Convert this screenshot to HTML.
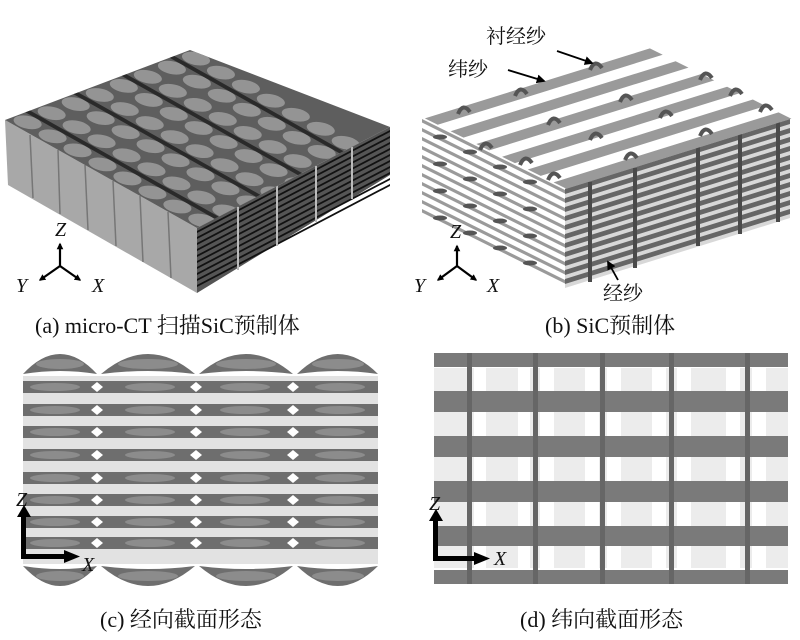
<!DOCTYPE html>
<html><head><meta charset="utf-8"><style>
html,body{margin:0;padding:0;background:#fff;}
svg{display:block}
text{font-family:"Liberation Serif","Noto Serif CJK SC","Noto Sans CJK SC",serif;fill:#111}
.it{font-style:italic}
</style></head><body>
<svg width="800" height="640" viewBox="0 0 800 640" xmlns="http://www.w3.org/2000/svg">
<defs>
<marker id="ah" viewBox="0 0 10 10" refX="8" refY="5" markerWidth="5" markerHeight="5" orient="auto"><path d="M0,0L10,5L0,10z" fill="#000"/></marker>
<marker id="ahb" viewBox="0 0 10 10" refX="8" refY="5" markerWidth="3" markerHeight="3" orient="auto"><path d="M0,0L10,5L0,10z" fill="#000"/></marker>
<clipPath id="topA"><polygon points="5,120 190,50 390,127 197,228"/></clipPath>
</defs>

<!-- ============ Panel A ============ -->
<polygon points="5,120 197,228 197,293 8,185" fill="#a8a8a8"/>
<g stroke="#6a6a6a" stroke-width="1.5" opacity="0.8">
<line x1="30" y1="135" x2="33" y2="198"/><line x1="58" y1="150" x2="60" y2="214"/>
<line x1="85" y1="165" x2="88" y2="230"/><line x1="113" y1="181" x2="116" y2="246"/>
<line x1="140" y1="196" x2="143" y2="262"/><line x1="168" y1="212" x2="171" y2="278"/>
</g>
<polygon points="197,228 390,127 390,175 197,293" fill="#555"/>
<g transform="matrix(193,-101,0,1,197,228)">
<rect x="0" y="3" width="1" height="2" fill="#111"/><rect x="0" y="9" width="1" height="2" fill="#111"/>
<rect x="0" y="15" width="1" height="2" fill="#111"/><rect x="0" y="21" width="1" height="2" fill="#111"/>
<rect x="0" y="27" width="1" height="2" fill="#111"/><rect x="0" y="33" width="1" height="2" fill="#111"/>
<rect x="0" y="39" width="1" height="2" fill="#111"/><rect x="0" y="45" width="1" height="2" fill="#111"/>
<rect x="0" y="51" width="1" height="2" fill="#111"/><rect x="0" y="57" width="1" height="2" fill="#111"/>
</g>
<g stroke="#bbb" stroke-width="2">
<line x1="238" y1="207" x2="238" y2="270"/><line x1="277" y1="186" x2="277" y2="246"/>
<line x1="316" y1="166" x2="316" y2="222"/><line x1="352" y1="147" x2="352" y2="199"/>
</g>
<polygon points="5,120 190,50 390,127 197,228" fill="#5e5e5e"/>
<g clip-path="url(#topA)">
<g transform="matrix(185,-70,192,108,5,120)">
<g fill="#949494">
<ellipse cx="0.06" cy="0.06" rx="0.05" ry="0.055"/><ellipse cx="0.19" cy="0.06" rx="0.05" ry="0.055"/><ellipse cx="0.32" cy="0.06" rx="0.05" ry="0.055"/><ellipse cx="0.45" cy="0.06" rx="0.05" ry="0.055"/><ellipse cx="0.58" cy="0.06" rx="0.05" ry="0.055"/><ellipse cx="0.71" cy="0.06" rx="0.05" ry="0.055"/><ellipse cx="0.84" cy="0.06" rx="0.05" ry="0.055"/><ellipse cx="0.97" cy="0.06" rx="0.05" ry="0.055"/>
<ellipse cx="0.06" cy="0.19" rx="0.05" ry="0.055"/><ellipse cx="0.19" cy="0.19" rx="0.05" ry="0.055"/><ellipse cx="0.32" cy="0.19" rx="0.05" ry="0.055"/><ellipse cx="0.45" cy="0.19" rx="0.05" ry="0.055"/><ellipse cx="0.58" cy="0.19" rx="0.05" ry="0.055"/><ellipse cx="0.71" cy="0.19" rx="0.05" ry="0.055"/><ellipse cx="0.84" cy="0.19" rx="0.05" ry="0.055"/><ellipse cx="0.97" cy="0.19" rx="0.05" ry="0.055"/>
<ellipse cx="0.06" cy="0.32" rx="0.05" ry="0.055"/><ellipse cx="0.19" cy="0.32" rx="0.05" ry="0.055"/><ellipse cx="0.32" cy="0.32" rx="0.05" ry="0.055"/><ellipse cx="0.45" cy="0.32" rx="0.05" ry="0.055"/><ellipse cx="0.58" cy="0.32" rx="0.05" ry="0.055"/><ellipse cx="0.71" cy="0.32" rx="0.05" ry="0.055"/><ellipse cx="0.84" cy="0.32" rx="0.05" ry="0.055"/><ellipse cx="0.97" cy="0.32" rx="0.05" ry="0.055"/>
<ellipse cx="0.06" cy="0.45" rx="0.05" ry="0.055"/><ellipse cx="0.19" cy="0.45" rx="0.05" ry="0.055"/><ellipse cx="0.32" cy="0.45" rx="0.05" ry="0.055"/><ellipse cx="0.45" cy="0.45" rx="0.05" ry="0.055"/><ellipse cx="0.58" cy="0.45" rx="0.05" ry="0.055"/><ellipse cx="0.71" cy="0.45" rx="0.05" ry="0.055"/><ellipse cx="0.84" cy="0.45" rx="0.05" ry="0.055"/><ellipse cx="0.97" cy="0.45" rx="0.05" ry="0.055"/>
<ellipse cx="0.06" cy="0.58" rx="0.05" ry="0.055"/><ellipse cx="0.19" cy="0.58" rx="0.05" ry="0.055"/><ellipse cx="0.32" cy="0.58" rx="0.05" ry="0.055"/><ellipse cx="0.45" cy="0.58" rx="0.05" ry="0.055"/><ellipse cx="0.58" cy="0.58" rx="0.05" ry="0.055"/><ellipse cx="0.71" cy="0.58" rx="0.05" ry="0.055"/><ellipse cx="0.84" cy="0.58" rx="0.05" ry="0.055"/><ellipse cx="0.97" cy="0.58" rx="0.05" ry="0.055"/>
<ellipse cx="0.06" cy="0.71" rx="0.05" ry="0.055"/><ellipse cx="0.19" cy="0.71" rx="0.05" ry="0.055"/><ellipse cx="0.32" cy="0.71" rx="0.05" ry="0.055"/><ellipse cx="0.45" cy="0.71" rx="0.05" ry="0.055"/><ellipse cx="0.58" cy="0.71" rx="0.05" ry="0.055"/><ellipse cx="0.71" cy="0.71" rx="0.05" ry="0.055"/><ellipse cx="0.84" cy="0.71" rx="0.05" ry="0.055"/><ellipse cx="0.97" cy="0.71" rx="0.05" ry="0.055"/>
<ellipse cx="0.06" cy="0.84" rx="0.05" ry="0.055"/><ellipse cx="0.19" cy="0.84" rx="0.05" ry="0.055"/><ellipse cx="0.32" cy="0.84" rx="0.05" ry="0.055"/><ellipse cx="0.45" cy="0.84" rx="0.05" ry="0.055"/><ellipse cx="0.58" cy="0.84" rx="0.05" ry="0.055"/><ellipse cx="0.71" cy="0.84" rx="0.05" ry="0.055"/><ellipse cx="0.84" cy="0.84" rx="0.05" ry="0.055"/><ellipse cx="0.97" cy="0.84" rx="0.05" ry="0.055"/>
<ellipse cx="0.06" cy="0.97" rx="0.05" ry="0.055"/><ellipse cx="0.19" cy="0.97" rx="0.05" ry="0.055"/><ellipse cx="0.32" cy="0.97" rx="0.05" ry="0.055"/><ellipse cx="0.45" cy="0.97" rx="0.05" ry="0.055"/><ellipse cx="0.58" cy="0.97" rx="0.05" ry="0.055"/><ellipse cx="0.71" cy="0.97" rx="0.05" ry="0.055"/><ellipse cx="0.84" cy="0.97" rx="0.05" ry="0.055"/><ellipse cx="0.97" cy="0.97" rx="0.05" ry="0.055"/>
</g>
<g fill="#2a2a2a">
<rect x="0.11" y="0" width="0.025" height="1"/><rect x="0.37" y="0" width="0.025" height="1"/><rect x="0.63" y="0" width="0.025" height="1"/><rect x="0.89" y="0" width="0.025" height="1"/>
</g>
</g>
</g>
<g stroke="#000" stroke-width="2.2" fill="none">
<line x1="60" y1="266" x2="60" y2="244" marker-end="url(#ahb)"/>
<line x1="60" y1="266" x2="40" y2="280" marker-end="url(#ahb)"/>
<line x1="60" y1="266" x2="80" y2="280" marker-end="url(#ahb)"/>
</g>
<text x="55" y="236" font-size="20" class="it">Z</text>
<text x="16" y="292" font-size="20" class="it">Y</text>
<text x="92" y="292" font-size="20" class="it">X</text>
<text x="35" y="333" font-size="22">(a) micro-CT 扫描SiC预制体</text>

<!-- ============ Panel B ============ -->
<g transform="matrix(143,71,0,1,422,117)">
<rect x="0" y="0" width="1" height="100" fill="#fff"/>
<rect x="0" y="2" width="1" height="3.5" fill="#9a9a9a"/><rect x="0" y="11" width="1" height="3.5" fill="#9a9a9a"/>
<rect x="0" y="20" width="1" height="3.5" fill="#9a9a9a"/><rect x="0" y="29" width="1" height="3.5" fill="#9a9a9a"/>
<rect x="0" y="38" width="1" height="3.5" fill="#9a9a9a"/><rect x="0" y="47" width="1" height="3.5" fill="#9a9a9a"/>
<rect x="0" y="56" width="1" height="3.5" fill="#9a9a9a"/><rect x="0" y="65" width="1" height="3.5" fill="#9a9a9a"/>
<rect x="0" y="74" width="1" height="3.5" fill="#9a9a9a"/><rect x="0" y="83" width="1" height="3.5" fill="#9a9a9a"/>
<rect x="0" y="92" width="1" height="3.5" fill="#9a9a9a"/>
</g>
<g fill="#555">
<ellipse cx="440" cy="137" rx="7" ry="2.5"/><ellipse cx="470" cy="152" rx="7" ry="2.5"/><ellipse cx="500" cy="167" rx="7" ry="2.5"/><ellipse cx="530" cy="182" rx="7" ry="2.5"/>
<ellipse cx="440" cy="164" rx="7" ry="2.5"/><ellipse cx="470" cy="179" rx="7" ry="2.5"/><ellipse cx="500" cy="194" rx="7" ry="2.5"/><ellipse cx="530" cy="209" rx="7" ry="2.5"/>
<ellipse cx="440" cy="191" rx="7" ry="2.5"/><ellipse cx="470" cy="206" rx="7" ry="2.5"/><ellipse cx="500" cy="221" rx="7" ry="2.5"/><ellipse cx="530" cy="236" rx="7" ry="2.5"/>
<ellipse cx="440" cy="218" rx="7" ry="2.5"/><ellipse cx="470" cy="233" rx="7" ry="2.5"/><ellipse cx="500" cy="248" rx="7" ry="2.5"/><ellipse cx="530" cy="263" rx="7" ry="2.5"/>
</g>
<g transform="matrix(225,-70,0,1,565,188)">
<rect x="0" y="0" width="1" height="100" fill="#d8d8d8"/>
<rect x="0" y="1" width="1" height="5" fill="#666"/><rect x="0" y="10" width="1" height="5" fill="#666"/>
<rect x="0" y="19" width="1" height="5" fill="#666"/><rect x="0" y="28" width="1" height="5" fill="#666"/>
<rect x="0" y="37" width="1" height="5" fill="#666"/><rect x="0" y="46" width="1" height="5" fill="#666"/>
<rect x="0" y="55" width="1" height="5" fill="#666"/><rect x="0" y="64" width="1" height="5" fill="#666"/>
<rect x="0" y="73" width="1" height="5" fill="#666"/><rect x="0" y="82" width="1" height="5" fill="#666"/>
<rect x="0" y="91" width="1" height="5" fill="#666"/>
</g>
<g stroke="#4a4a4a" stroke-width="4">
<line x1="590" y1="182" x2="590" y2="282"/><line x1="635" y1="168" x2="635" y2="268"/>
<line x1="698" y1="146" x2="698" y2="246"/><line x1="740" y1="134" x2="740" y2="234"/>
<line x1="778" y1="122" x2="778" y2="222"/>
</g>
<g transform="matrix(225,-70,143,71,422,117)">
<rect x="0" y="0.02" width="1" height="0.09" fill="#9a9a9a"/>
<rect x="0" y="0.2" width="1" height="0.09" fill="#9a9a9a"/>
<rect x="0" y="0.38" width="1" height="0.09" fill="#9a9a9a"/>
<rect x="0" y="0.56" width="1" height="0.09" fill="#9a9a9a"/>
<rect x="0" y="0.74" width="1" height="0.09" fill="#9a9a9a"/>
<rect x="0" y="0.92" width="1" height="0.09" fill="#9a9a9a"/>
</g>
<g fill="none" stroke="#555" stroke-width="4">
<path d="M458,114 q5,-12 12,-2"/><path d="M515,96 q5,-12 12,-2"/><path d="M590,70 q5,-12 12,-2"/>
<path d="M480,150 q5,-12 12,-2"/><path d="M548,125 q5,-12 12,-2"/><path d="M620,102 q5,-12 12,-2"/><path d="M700,80 q5,-12 12,-2"/>
<path d="M520,165 q5,-12 12,-2"/><path d="M590,140 q5,-12 12,-2"/><path d="M660,118 q5,-12 12,-2"/><path d="M730,96 q5,-12 12,-2"/>
<path d="M548,180 q5,-12 12,-2"/><path d="M625,160 q5,-12 12,-2"/><path d="M700,136 q5,-12 12,-2"/><path d="M760,112 q5,-12 12,-2"/>
</g>
<text x="486" y="43" font-size="20">衬经纱</text>
<text x="448" y="76" font-size="20">纬纱</text>
<g stroke="#000" stroke-width="1.8">
<line x1="557" y1="51" x2="592" y2="63" marker-end="url(#ah)"/>
<line x1="508" y1="70" x2="544" y2="81" marker-end="url(#ah)"/>
<line x1="618" y1="280" x2="608" y2="262" marker-end="url(#ah)"/>
</g>
<text x="603" y="300" font-size="20">经纱</text>
<g stroke="#000" stroke-width="2.2" fill="none">
<line x1="457" y1="266" x2="457" y2="246" marker-end="url(#ahb)"/>
<line x1="457" y1="266" x2="438" y2="280" marker-end="url(#ahb)"/>
<line x1="457" y1="266" x2="476" y2="280" marker-end="url(#ahb)"/>
</g>
<text x="450" y="238" font-size="20" class="it">Z</text>
<text x="414" y="292" font-size="20" class="it">Y</text>
<text x="487" y="292" font-size="20" class="it">X</text>
<text x="545" y="333" font-size="22">(b) SiC预制体</text>

<!-- ============ Panel C ============ -->
<rect x="23" y="376" width="355" height="188" fill="#e2e2e2"/>
<g fill="#6e6e6e">
<rect x="23" y="381" width="355" height="12"/><rect x="23" y="404" width="355" height="12"/>
<rect x="23" y="426" width="355" height="12"/><rect x="23" y="449" width="355" height="12"/>
<rect x="23" y="472" width="355" height="12"/><rect x="23" y="494" width="355" height="12"/>
<rect x="23" y="516" width="355" height="12"/><rect x="23" y="537" width="355" height="12"/>
</g>
<g fill="#8c8c8c">
<ellipse cx="55" cy="387" rx="25" ry="4"/><ellipse cx="150" cy="387" rx="25" ry="4"/><ellipse cx="245" cy="387" rx="25" ry="4"/><ellipse cx="340" cy="387" rx="25" ry="4"/>
<ellipse cx="55" cy="410" rx="25" ry="4"/><ellipse cx="150" cy="410" rx="25" ry="4"/><ellipse cx="245" cy="410" rx="25" ry="4"/><ellipse cx="340" cy="410" rx="25" ry="4"/>
<ellipse cx="55" cy="432" rx="25" ry="4"/><ellipse cx="150" cy="432" rx="25" ry="4"/><ellipse cx="245" cy="432" rx="25" ry="4"/><ellipse cx="340" cy="432" rx="25" ry="4"/>
<ellipse cx="55" cy="455" rx="25" ry="4"/><ellipse cx="150" cy="455" rx="25" ry="4"/><ellipse cx="245" cy="455" rx="25" ry="4"/><ellipse cx="340" cy="455" rx="25" ry="4"/>
<ellipse cx="55" cy="478" rx="25" ry="4"/><ellipse cx="150" cy="478" rx="25" ry="4"/><ellipse cx="245" cy="478" rx="25" ry="4"/><ellipse cx="340" cy="478" rx="25" ry="4"/>
<ellipse cx="55" cy="500" rx="25" ry="4"/><ellipse cx="150" cy="500" rx="25" ry="4"/><ellipse cx="245" cy="500" rx="25" ry="4"/><ellipse cx="340" cy="500" rx="25" ry="4"/>
<ellipse cx="55" cy="522" rx="25" ry="4"/><ellipse cx="150" cy="522" rx="25" ry="4"/><ellipse cx="245" cy="522" rx="25" ry="4"/><ellipse cx="340" cy="522" rx="25" ry="4"/>
<ellipse cx="55" cy="543" rx="25" ry="4"/><ellipse cx="150" cy="543" rx="25" ry="4"/><ellipse cx="245" cy="543" rx="25" ry="4"/><ellipse cx="340" cy="543" rx="25" ry="4"/>
</g>
<!-- X-junction diamonds -->
<g fill="#fff">
<path d="M91,387 l6,-5 l6,5 l-6,5z"/><path d="M91,410 l6,-5 l6,5 l-6,5z"/><path d="M91,432 l6,-5 l6,5 l-6,5z"/><path d="M91,455 l6,-5 l6,5 l-6,5z"/><path d="M91,478 l6,-5 l6,5 l-6,5z"/><path d="M91,500 l6,-5 l6,5 l-6,5z"/><path d="M91,522 l6,-5 l6,5 l-6,5z"/><path d="M91,543 l6,-5 l6,5 l-6,5z"/>
<path d="M190,387 l6,-5 l6,5 l-6,5z"/><path d="M190,410 l6,-5 l6,5 l-6,5z"/><path d="M190,432 l6,-5 l6,5 l-6,5z"/><path d="M190,455 l6,-5 l6,5 l-6,5z"/><path d="M190,478 l6,-5 l6,5 l-6,5z"/><path d="M190,500 l6,-5 l6,5 l-6,5z"/><path d="M190,522 l6,-5 l6,5 l-6,5z"/><path d="M190,543 l6,-5 l6,5 l-6,5z"/>
<path d="M287,387 l6,-5 l6,5 l-6,5z"/><path d="M287,410 l6,-5 l6,5 l-6,5z"/><path d="M287,432 l6,-5 l6,5 l-6,5z"/><path d="M287,455 l6,-5 l6,5 l-6,5z"/><path d="M287,478 l6,-5 l6,5 l-6,5z"/><path d="M287,500 l6,-5 l6,5 l-6,5z"/><path d="M287,522 l6,-5 l6,5 l-6,5z"/><path d="M287,543 l6,-5 l6,5 l-6,5z"/>
</g>
<!-- arcs -->
<g fill="#6e6e6e">
<path d="M23,374 Q60,334 97,374 Q60,368 23,374z"/><path d="M101,374 Q148,334 195,374 Q148,368 101,374z"/>
<path d="M199,374 Q246,334 293,374 Q246,368 199,374z"/><path d="M297,374 Q338,334 378,374 Q338,368 297,374z"/>
<path d="M23,566 Q60,606 97,566 Q60,572 23,566z"/><path d="M101,566 Q148,606 195,566 Q148,572 101,566z"/>
<path d="M199,566 Q246,606 293,566 Q246,572 199,566z"/><path d="M297,566 Q338,606 378,566 Q338,572 297,566z"/>
</g>
<g fill="#8c8c8c">
<ellipse cx="60" cy="364" rx="24" ry="5"/><ellipse cx="148" cy="364" rx="30" ry="5"/><ellipse cx="246" cy="364" rx="30" ry="5"/><ellipse cx="338" cy="364" rx="26" ry="5"/>
<ellipse cx="60" cy="576" rx="24" ry="5"/><ellipse cx="148" cy="576" rx="30" ry="5"/><ellipse cx="246" cy="576" rx="30" ry="5"/><ellipse cx="338" cy="576" rx="26" ry="5"/>
</g>
<path d="M17,517 L24,505 L31,517 z" fill="#000"/>
<rect x="21" y="515" width="5" height="44" fill="#000"/>
<rect x="21" y="554" width="46" height="5" fill="#000"/>
<path d="M64,550 L80,556.5 L64,563 z" fill="#000"/>
<text x="16" y="506" font-size="20" class="it">Z</text>
<text x="82" y="571" font-size="20" class="it">X</text>
<text x="100" y="627" font-size="22">(c) 经向截面形态</text>

<!-- ============ Panel D ============ -->
<rect x="434" y="368" width="354" height="200" fill="#ececec"/>
<g fill="#fff">
<rect x="474" y="368" width="12" height="200"/><rect x="518" y="368" width="12" height="200"/><rect x="540" y="368" width="14" height="200"/>
<rect x="585" y="368" width="14" height="200"/><rect x="607" y="368" width="14" height="200"/><rect x="652" y="368" width="14" height="200"/>
<rect x="677" y="368" width="14" height="200"/><rect x="726" y="368" width="14" height="200"/><rect x="752" y="368" width="14" height="200"/>
</g>
<g fill="#7a7a7a">
<rect x="434" y="353" width="354" height="14"/><rect x="434" y="391" width="354" height="21"/>
<rect x="434" y="436" width="354" height="21"/><rect x="434" y="481" width="354" height="21"/>
<rect x="434" y="526" width="354" height="20"/><rect x="434" y="570" width="354" height="14"/>
</g>
<g fill="#666">
<rect x="467" y="353" width="5" height="231"/><rect x="533" y="353" width="5" height="231"/>
<rect x="600" y="353" width="5" height="231"/><rect x="669" y="353" width="5" height="231"/>
<rect x="745" y="353" width="5" height="231"/>
</g>
<path d="M429,521 L436,509 L443,521 z" fill="#000"/>
<rect x="433" y="519" width="5" height="42" fill="#000"/>
<rect x="433" y="556" width="44" height="5" fill="#000"/>
<path d="M474,552 L490,558.5 L474,565 z" fill="#000"/>
<text x="429" y="510" font-size="20" class="it">Z</text>
<text x="494" y="565" font-size="20" class="it">X</text>
<text x="520" y="627" font-size="22">(d) 纬向截面形态</text>
</svg>
</body></html>
